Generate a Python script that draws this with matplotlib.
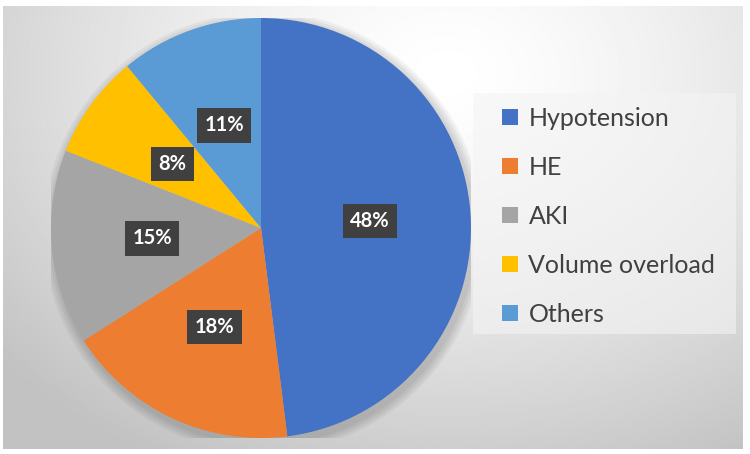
import numpy as np
import matplotlib
matplotlib.use("Agg")
import matplotlib.pyplot as plt
from matplotlib.patches import Circle, Rectangle

# data
labels = ["Hypotension", "HE", "AKI", "Volume overload", "Others"]
values = [48, 18, 15, 8, 11]
colors = ["#4472C4", "#ED7D31", "#A5A5A5", "#FFC000", "#5B9BD5"]

W, H = 750, 454
fig = plt.figure(figsize=(W / 100, H / 100), dpi=100)
fig.patch.set_facecolor("white")

# background panel with radial gradient
bg = fig.add_axes([3 / W, 1 - 449 / H, 740 / W, 443 / H])
yy, xx = np.mgrid[0:1:300j, 0:1:500j]
d = np.sqrt((xx - 0.6) ** 2 + ((yy - 0.15) * 0.8) ** 2)
shade = 1.0 - 0.24 * np.clip(d / 0.8, 0, 1) ** 1.4
bg.imshow(shade, cmap="gray", vmin=0, vmax=1, aspect="auto",
          extent=[0, 1, 1, 0], interpolation="bilinear")
bg.set_xlim(0, 1)
bg.set_ylim(1, 0)
bg.axis("off")

# legend background box
bg.add_patch(Rectangle((473 / W, 1 - 334 / H), 263 / W, 241 / H,
                       transform=fig.transFigure, facecolor="#f4f4f4",
                       alpha=0.6, edgecolor="none", zorder=3))

# pie axes
ax = fig.add_axes([51 / W, 1 - 438 / H, 420 / W, 420 / H])

# soft shadow
for i in range(4):
    ax.add_patch(Circle((0.012, -0.02), 1.0 + 0.012 * (4 - i), color="black",
                        alpha=0.045, lw=0, zorder=0))

wedges, texts, autotexts = ax.pie(
    values, colors=colors, startangle=90, counterclock=False,
    autopct="%d%%", pctdistance=0.52, radius=1.0,
    wedgeprops=dict(linewidth=0),
    textprops=dict(color="white", fontsize=14.5, fontweight="bold", family="Lato"))
for t in autotexts:
    t.set_bbox(dict(boxstyle="square,pad=0.36", facecolor="#404040", edgecolor="none"))
    t.set_zorder(5)
for w in wedges:
    w.set_zorder(2)
ax.set_xlim(-1.0, 1.0)
ax.set_ylim(-1.0, 1.0)
ax.axis("off")

# legend
lg = ax.legend(wedges, labels, loc="upper left",
               bbox_to_anchor=(502 / W, 1 - 107 / H), bbox_transform=fig.transFigure,
               frameon=False, labelspacing=1.04,
               handlelength=0.64, handleheight=0.64, handletextpad=0.42,
               borderpad=0, borderaxespad=0,
               prop=dict(family="Lato", size=18))
for t in lg.get_texts():
    t.set_color("#404040")

fig.savefig("out.png", dpi=100)
